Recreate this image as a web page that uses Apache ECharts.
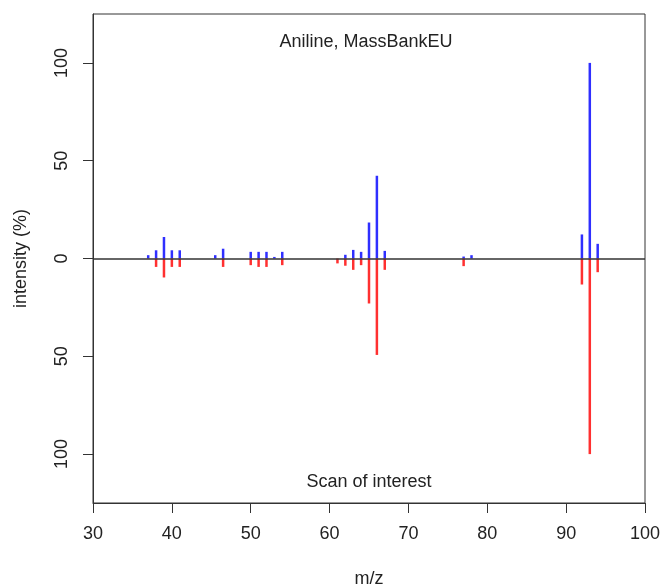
<!DOCTYPE html>
<html>
<head>
<meta charset="utf-8">
<title>Aniline, MassBankEU</title>
<script src="https://cdn.jsdelivr.net/npm/echarts@6/dist/echarts.min.js"></script>
<style>
  html, body { margin: 0; padding: 0; background: #fff; }
  #chart { width: 660px; height: 587px; }
</style>
</head>
<body>
<div id="chart"></div>
<script>
// reference spectrum (top, blue)
const refMz = [37, 38, 39, 40, 41, 45.5, 46.5, 50, 51, 52, 53, 54, 62, 63, 64, 65, 66, 67, 77, 78, 92, 93, 94]
const refInt = [1.7, 4.2, 11, 4.2, 4.2, 1.7, 5, 3.4, 3.4, 3.4, 0.8, 3.4, 1.9, 4.4, 3.4, 18.4, 42.3, 3.9, 1, 1.7, 12.3, 100, 7.5]

// scan of interest (bottom, red, drawn mirrored)
const scanMz = [38, 39, 40, 41, 46.5, 50, 51, 52, 54, 61, 62, 63, 64, 65, 66, 67, 77, 92, 93, 94]
const scanInt = [4.3, 9.7, 4.3, 4.3, 4.3, 3.4, 4.3, 4.3, 3.4, 2.5, 3.7, 5.8, 3.4, 23, 49.3, 5.8, 3.9, 13.3, 100, 7]

const yTicks = [-100, -50, 0, 50, 100]

const textColor = '#222'
const font = 'Liberation Sans, Arial, sans-serif'

const chart = echarts.init(document.getElementById('chart'))

const option = {
  animation: false,
  title: [
    {
      text: 'Aniline, MassBankEU',
      left: 361,
      top: 28,
      textAlign: 'center',
      textStyle: { color: textColor, fontSize: 18, fontWeight: 'normal', fontFamily: font }
    },
    {
      text: 'Scan of interest',
      left: 364,
      top: 468,
      textAlign: 'center',
      textStyle: { color: textColor, fontSize: 18, fontWeight: 'normal', fontFamily: font }
    }
  ],
  grid: {
    left: 93,
    right: 15,
    top: 14,
    bottom: 84,
    outerBoundsMode: 'none',
    show: true,
    borderColor: '#333',
    borderWidth: 1
  },
  xAxis: {
    type: 'value',
    min: 30,
    max: 100,
    interval: 10,
    name: 'm/z',
    nameLocation: 'middle',
    nameGap: 67,
    nameTextStyle: { color: textColor, fontSize: 18, fontFamily: font },
    axisLine: { onZero: false, lineStyle: { color: '#333', width: 1 } },
    axisTick: { inside: false, length: 10, lineStyle: { color: '#333' } },
    axisLabel: { color: textColor, fontSize: 18, fontFamily: font, margin: 22 },
    splitLine: { show: false }
  },
  yAxis: {
    type: 'value',
    min: -125,
    max: 125,
    name: 'intensity (%)',
    nameLocation: 'middle',
    nameGap: 63,
    nameTextStyle: { color: textColor, fontSize: 18, fontFamily: font },
    axisLine: { show: true, onZero: false, lineStyle: { color: '#333', width: 1 } },
    axisTick: { show: true, length: 10, customValues: yTicks, lineStyle: { color: '#333' } },
    axisLabel: {
      color: textColor,
      fontSize: 18,
      fontFamily: font,
      rotate: 90,
      margin: 22,
      customValues: yTicks,
      formatter: (v) => String(Math.abs(v))
    },
    splitLine: { show: false }
  },
  series: [
    {
      name: 'reference',
      type: 'bar',
      barWidth: 2.5,
      barGap: '-100%',
      itemStyle: { color: '#2f2fff' },
      data: refMz.map((mz, i) => [mz, refInt[i]]),
      markLine: {
        silent: true,
        symbol: 'none',
        label: { show: false },
        lineStyle: { color: '#333', type: 'solid', width: 1.5 },
        data: [{ yAxis: 0 }]
      },
      z: 2
    },
    {
      name: 'scan',
      type: 'bar',
      barWidth: 2.5,
      barGap: '-100%',
      itemStyle: { color: '#ff3030' },
      data: scanMz.map((mz, i) => [mz, -scanInt[i]]),
      z: 2
    }
  ]
}

chart.setOption(option)
</script>
</body>
</html>
